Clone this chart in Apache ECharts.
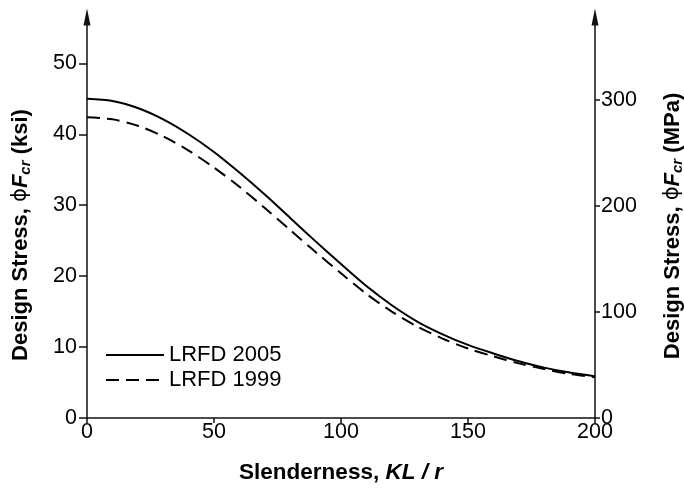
<!DOCTYPE html>
<html>
<head>
<meta charset="utf-8">
<script src="https://cdn.jsdelivr.net/npm/echarts@6/dist/echarts.min.js"></script>
<style>html,body{margin:0;padding:0;background:#fff}#c{width:684px;height:489px}</style>
</head>
<body>
<div id="c"></div>
<script>
// Slenderness values (KL/r)
var slenderness = [0,10,20,30,40,50,60,70,80,90,100,110,120,130,140,150,160,170,180,190,200];
// LRFD 2005 design stress (ksi)
var lrfd2005 = [45.0,44.7,43.7,42.1,40.0,37.5,34.6,31.5,28.2,24.9,21.7,18.6,15.9,13.6,11.8,10.3,9.1,8.0,7.1,6.4,5.9];
// LRFD 1999 design stress (ksi)
var lrfd1999 = [42.4,42.1,41.2,39.7,37.7,35.3,32.6,29.6,26.5,23.4,20.4,17.5,15.0,12.9,11.2,9.8,8.7,7.7,6.9,6.2,5.75];
var xTicks = [0,50,100,150,200];
var ksiTicks = [0,10,20,30,40,50];
var mpaTicks = [0,100,200,300];
var seriesNames = ['LRFD 2005','LRFD 1999'];

var FONT = 'Liberation Sans, Arial, Helvetica, sans-serif';
function pairs(xs, ys){ return xs.map(function(x,i){ return [x, ys[i]]; }); }

var chart = echarts.init(document.getElementById('c'), null, {renderer:'canvas'});
function rich(sz){
  return {
    b:{fontFamily:FONT, fontWeight:'bold', fontSize:sz, fill:'#000'},
    p:{fontFamily:'DejaVu Sans, sans-serif', fontWeight:'normal', fontSize:sz-1, fill:'#000'},
    f:{fontFamily:FONT, fontWeight:'bold', fontStyle:'italic', fontSize:sz, fill:'#000'},
    s:{fontFamily:FONT, fontWeight:'bold', fontStyle:'italic', fontSize:Math.round(sz*0.7), lineHeight:Math.round(sz*0.7), padding:[9,0,0,0], fill:'#000'},
    i:{fontFamily:FONT, fontWeight:'bold', fontStyle:'italic', fontSize:sz, fill:'#000'}
  };
}
chart.setOption({
  animation:false,
  backgroundColor:'#fff',
  grid:{left:87, right:89, top:17, bottom:71, containLabel:false},
  legend:{
    show:true, orient:'vertical', left:105, top:344, padding:0,
    itemWidth:58, itemHeight:22, itemGap:3,
    data:seriesNames,
    itemStyle:{opacity:0},
    textStyle:{fontFamily:FONT, fontSize:22, color:'#000', lineHeight:22}
  },
  xAxis:{
    type:'value', min:0, max:200, interval:50,
    axisLine:{show:true, lineStyle:{color:'#111', width:1.5}},
    axisTick:{show:true, length:5, lineStyle:{color:'#111', width:1.5}},
    axisLabel:{fontFamily:FONT, fontSize:21.5, color:'#000', margin:3},
    splitLine:{show:false}
  },
  yAxis:[{
    type:'value', position:'left', min:0, max:56.53,
    axisLine:{show:true, symbol:['none','triangle'], symbolSize:[7,17], lineStyle:{color:'#111', width:1.5}},
    axisTick:{show:true, length:8, customValues:ksiTicks, lineStyle:{color:'#111', width:1.5}},
    axisLabel:{fontFamily:FONT, fontSize:21.5, color:'#000', margin:10, customValues:ksiTicks},
    splitLine:{show:false}
  },{
    type:'value', position:'right', min:0, max:378.3,
    axisLine:{show:true, symbol:['none','triangle'], symbolSize:[7,17], lineStyle:{color:'#111', width:1.5}},
    axisTick:{show:true, length:5, customValues:mpaTicks, lineStyle:{color:'#111', width:1.5}},
    axisLabel:{fontFamily:FONT, fontSize:21.5, color:'#000', margin:6, customValues:mpaTicks},
    splitLine:{show:false}
  }],
  series:[{
    name:seriesNames[0], type:'line', yAxisIndex:0, data:pairs(slenderness, lrfd2005),
    symbol:'none', smooth:0.3, lineStyle:{color:'#000', width:2, type:'solid'}, itemStyle:{color:'#000'}
  },{
    name:seriesNames[1], type:'line', yAxisIndex:0, data:pairs(slenderness, lrfd1999),
    symbol:'none', smooth:0.3, lineStyle:{color:'#000', width:2, type:[13,7]}, itemStyle:{color:'#000'}
  }],
  graphic:[{
    type:'text', x:341, y:473,
    style:{text:'{b|Slenderness, }{i|KL / r}', rich:rich(22.5), align:'center', verticalAlign:'middle'}
  },{
    type:'text', x:21, y:235, rotation:Math.PI/2,
    style:{text:'{b|Design Stress, }{p|\u03D5}{f|F}{s|cr}{b| (ksi)}', rich:rich(22), align:'center', verticalAlign:'middle'}
  },{
    type:'text', x:673, y:226, rotation:Math.PI/2,
    style:{text:'{b|Design Stress, }{p|\u03D5}{f|F}{s|cr}{b| (MPa)}', rich:rich(22), align:'center', verticalAlign:'middle'}
  }]
});
</script>
</body>
</html>
